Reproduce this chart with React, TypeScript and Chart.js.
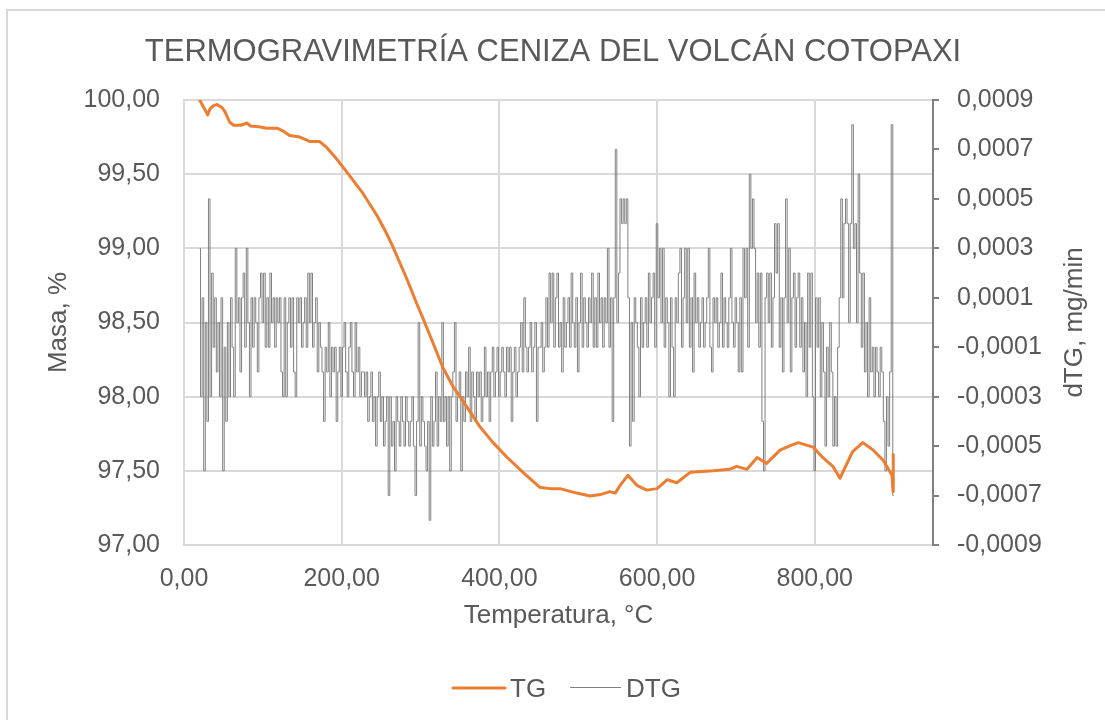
import React, { useEffect, useRef } from "react";
import { Chart, registerables } from "chart.js";

Chart.register(...registerables);

const FONT = '"Liberation Sans", Arial, sans-serif';
const TEXT = "#595959";

const chartTitle = "TERMOGRAVIMETRÍA CENIZA DEL VOLCÁN COTOPAXI";
const xTitle = "Temperatura, °C";
const yTitle = "Masa, %";
const y1Title = "dTG, mg/min";
const seriesNames = ["TG", "DTG"];

const tempTicks = [0, 200, 400, 600, 800];
const massTicks = [97, 97.5, 98, 98.5, 99, 99.5, 100];
const dtgTicks = [-0.0009, -0.0007, -0.0005, -0.0003, -0.0001, 0.0001, 0.0003, 0.0005, 0.0007, 0.0009];

// TG curve: temperature (°C) and mass (%)
const tgTemp = [20, 24, 28, 30, 33, 37, 42, 48, 52, 58, 63, 67, 72, 80, 84, 95, 105, 118, 126, 134, 147, 160, 172, 181, 194, 210, 227, 245, 257, 265, 283, 295, 303, 316, 328, 341, 359, 375, 392, 410, 430, 451, 464, 477, 498, 515, 528, 540, 547, 553, 563, 575, 587, 600, 613, 625, 642, 671, 692, 701, 714, 727, 739, 756, 769, 779, 798, 810, 823, 832, 848, 861, 874, 887, 898, 899.3, 899.6];
const tgMass = [100.0, 99.96, 99.92, 99.9, 99.94, 99.96, 99.97, 99.95, 99.92, 99.85, 99.83, 99.83, 99.83, 99.845, 99.825, 99.82, 99.81, 99.81, 99.79, 99.76, 99.75, 99.72, 99.72, 99.68, 99.6, 99.49, 99.37, 99.22, 99.1, 99.01, 98.79, 98.63, 98.53, 98.36, 98.2, 98.07, 97.93, 97.8, 97.69, 97.59, 97.49, 97.39, 97.38, 97.38, 97.35, 97.33, 97.34, 97.36, 97.35, 97.4, 97.47, 97.4, 97.37, 97.38, 97.44, 97.42, 97.49, 97.5, 97.51, 97.53, 97.51, 97.59, 97.55, 97.64, 97.67, 97.69, 97.66, 97.59, 97.53, 97.45, 97.63, 97.69, 97.64, 97.57, 97.47, 97.36, 97.61];

// DTG signal sampled every 2 °C from 20 °C, values in units of 0.0001 mg/min
const dtgStartTemp = 20;
const dtgStepTemp = 2;
const dtgUnits = [
  3, -3, 1, -6, 0, -4, 5, -3, 2, -1, 1, -2, 0, -3, 1, -6, -1, -4, 0, -3,
  1, -1, -3, 3, 0, 1, -2, 1, 2, -1, 3, 0, -3, 1, -1, 1, 0, -2, 1, 2,
  0, 2, -1, 1, -1, 2, 0, 1, -1, 1, 0, 1, -2, -3, 1, -3, 0, 1, -1, 1,
  -2, -3, 1, 0, 1, -1, 0, 1, -1, 2, 0, 2, -1, 0, 1, -2, 0,
  -1, -2, -4, -1, -2, 0, -3, -1, -2, -1, -4, -2, -1, -3, -1, 0, -2, -3, -1, 0, -2, -3, 0, -2, -1, -3, -2,
  -2, -3, -2, -4, -3, -2, -4, -3, -5, -3, -2, -4, -3, -5, -4, -3, -7, -3, -5, -4,
  -6, -3, -4, -5, -3, -4, -5, -3, -4, -5, -4, -3, -5, -7, -4, 0, -5, -3, -4, -5,
  -6, -4, -8, -3, -5, -4, -2, -5, -3, -4, 0, -4, -3, -5, -3,
  -6, -3, -2, 0, -4, -3, -2, -6, -3, -4, -2, -3, -1, -4, -2, -3, -4, -2, -3, -2, -4, -3, -1, -3, -2, -4,
  -2, -1, -3, -2, -1, -3, -2, -1, -2, -3, -1, -2, -1, -4, -2, -1, -3, -2, -1, 0, -2, 1, -1, -2, -1, 0, -2, -1, 0, -4, -1,
  -1, 0, -2, -1, 1, -1, 2, 0, 2, -1, 1, 2, -1, 0, -2, 1, -1, 0, 1, -1, 2, 0, -1, 1, -2, 0, 2, -1, 1, 0, -1, 1, 0, 2, -1, 1, -1, 2,
  0, 1, -1, 1, 0, 3, -1, 1, -4, 1, 7, 0, 2, 5, 4, 5, 4, 5, 1, -5,
  0, -4, 1, 0, -1, -3, 1, -1, 0, 1, -1, 2, 0, 1, 2, -1, 4, 1, 3, 0,
  3, -1, 1, 0, -3, 1, -1, -3, 1, 0, 2, 3, -1, 1, 3, 0, 3, -1, 1, -2, 2, 0, 1, -1,
  0, 1, -1, 0, 1, 3, -1, -2, 1, 0, 1, -1, 0, 2, -1, 1, 0, -1, 1, 3,
  0, -1, 1, 0, -2, 1, -2, 3, 1, 3, -1, 6, 3, 5, 3, 0, 2, -1,
  2, -4, -6, 1, 2, 0, 2, -1, 1, 4, 2, 4, -1, 1, -2, 1, 5, 0, 3, -2, 1, 2, -1, 1, 2,
  -1, 1, -2, 0, -3, 2, -1, 2, -3, -6, 1, -1, 1, -3, 0, -2, -5, -1, -3, 0, -2, -5, -3, -5, -1, 1,
  5, 1, 4, 5, 4, 0, 4, 8, 3, 4, 0, 6,
  2, -1, 2, -2, 0, -3, 1, -2, -1, -3, -1, -2, -3, -1, -2, -4,
  -6, -3, -5, -2, 8, -7,
];

const TG_COLOR = "#ED7D31";
const DTG_COLOR = "#808080";
const GRID = "#d9d9d9";

const comma = (v: number, d: number) => Number(v).toFixed(d).replace(".", ",");

export default function App() {
  const ref = useRef<HTMLCanvasElement | null>(null);

  useEffect(() => {
    const canvas = ref.current;
    if (!canvas) return;

    const tgData = tgTemp.map((t, i) => ({ x: t, y: tgMass[i] }));
    const dtgData = dtgUnits.map((u, i) => ({ x: dtgStartTemp + i * dtgStepTemp, y: u * 1e-4 }));

    const decor = {
      id: "decor",
      beforeDraw(chart: any) {
        const ctx = chart.ctx;
        ctx.save();
        ctx.fillStyle = "#ffffff";
        ctx.fillRect(0, 0, chart.width, chart.height);
        ctx.strokeStyle = GRID;
        ctx.lineWidth = 2;
        ctx.strokeRect(7, 10, 1300, 900);
        ctx.restore();
      },
      afterDraw(chart: any) {
        const ctx = chart.ctx;
        const area = chart.chartArea;
        const midY = (area.top + area.bottom) / 2;
        const midX = (area.left + area.right) / 2;
        ctx.save();
        ctx.fillStyle = TEXT;
        ctx.textBaseline = "alphabetic";
        ctx.textAlign = "center";
        ctx.font = `31px ${FONT}`;
        ctx.fillText(chartTitle, 553, 61);

        ctx.font = `26px ${FONT}`;
        ctx.fillText(xTitle, midX, 623);

        ctx.save();
        ctx.translate(66, midY);
        ctx.rotate(-Math.PI / 2);
        ctx.fillText(yTitle, 0, 0);
        ctx.restore();

        ctx.save();
        ctx.translate(1082, midY);
        ctx.rotate(-Math.PI / 2);
        ctx.fillText(y1Title, 0, 0);
        ctx.restore();

        // legend
        ctx.lineCap = "round";
        ctx.strokeStyle = TG_COLOR;
        ctx.lineWidth = 3;
        ctx.beginPath();
        ctx.moveTo(453, 688);
        ctx.lineTo(505, 688);
        ctx.stroke();
        ctx.strokeStyle = DTG_COLOR;
        ctx.lineWidth = 1;
        ctx.lineCap = "butt";
        ctx.beginPath();
        ctx.moveTo(570, 687.5);
        ctx.lineTo(621, 687.5);
        ctx.stroke();
        ctx.textAlign = "left";
        ctx.fillText(seriesNames[0], 510, 697);
        ctx.fillText(seriesNames[1], 626, 697);
        ctx.restore();
      },
    };

    const chart = new Chart(canvas, {
      type: "line",
      data: {
        datasets: [
          {
            label: seriesNames[0],
            data: tgData,
            yAxisID: "y",
            borderColor: TG_COLOR,
            backgroundColor: TG_COLOR,
            borderWidth: 3,
            pointRadius: 0,
            tension: 0,
            borderJoinStyle: "round",
            borderCapStyle: "round",
          },
          {
            label: seriesNames[1],
            data: dtgData,
            yAxisID: "y1",
            borderColor: DTG_COLOR,
            backgroundColor: DTG_COLOR,
            borderWidth: 1,
            pointRadius: 0,
            tension: 0,
            stepped: "middle",
          },
        ],
      },
      options: {
        responsive: false,
        animation: false,
        devicePixelRatio: 1,
        layout: { padding: { top: 100, bottom: 100, left: 0, right: 0 } },
        plugins: {
          legend: { display: false },
          title: { display: false },
          tooltip: { enabled: false },
        },
        scales: {
          x: {
            type: "linear",
            min: 0,
            max: 950,
            afterBuildTicks: (s: any) => {
              s.ticks = tempTicks.map((v) => ({ value: v }));
            },
            afterFit: (s: any) => {
              s.height = 75;
            },
            grid: { color: GRID, lineWidth: 2, drawTicks: false },
            border: { display: true, color: GRID, width: 2 },
            ticks: {
              padding: 19,
              color: TEXT,
              autoSkip: false,
              maxRotation: 0,
              font: { family: FONT, size: 25 },
              callback: (v: any) => comma(v, 2),
            },
          },
          y: {
            type: "linear",
            position: "left",
            min: 97,
            max: 100,
            afterBuildTicks: (s: any) => {
              s.ticks = massTicks.map((v) => ({ value: v }));
            },
            afterFit: (s: any) => {
              s.width = 184;
            },
            grid: { color: GRID, lineWidth: 2, drawTicks: false },
            border: { display: true, color: GRID, width: 2 },
            ticks: {
              padding: 24,
              color: TEXT,
              font: { family: FONT, size: 25 },
              callback: (v: any) => comma(v, 2),
            },
          },
          y1: {
            type: "linear",
            position: "right",
            min: -0.0009,
            max: 0.0009,
            afterBuildTicks: (s: any) => {
              s.ticks = dtgTicks.map((v) => ({ value: v }));
            },
            afterFit: (s: any) => {
              s.width = 172;
            },
            grid: { drawOnChartArea: false, drawTicks: true, tickLength: 6, color: DTG_COLOR, lineWidth: 2 },
            border: { display: true, color: DTG_COLOR, width: 2 },
            ticks: {
              padding: 18,
              color: TEXT,
              font: { family: FONT, size: 25 },
              callback: (v: any) => comma(v, 4),
            },
          },
        },
      },
      plugins: [decor],
    } as any);

    return () => chart.destroy();
  }, []);

  return (
    <div style={{ position: "fixed", left: 0, top: 0, width: 1105, height: 720, background: "#fff" }}>
      <canvas ref={ref} width={1105} height={720} style={{ display: "block", width: 1105, height: 720 }} />
    </div>
  );
}
